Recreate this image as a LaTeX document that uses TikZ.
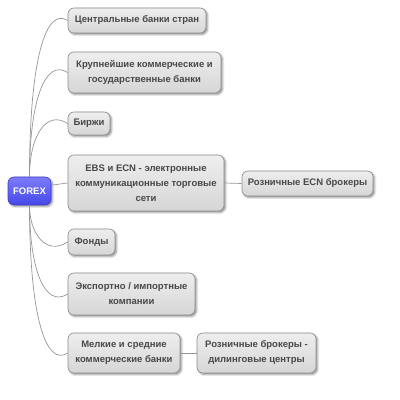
\documentclass[tikz,border=0pt]{standalone}
\usepackage{fontspec}
\setmainfont{Liberation Sans}
\usetikzlibrary{shadows,shadows.blur}
\definecolor{boxline}{RGB}{140,140,140}
\definecolor{boxtop}{RGB}{238,238,238}
\definecolor{boxbot}{RGB}{214,214,214}
\definecolor{txt}{RGB}{72,72,72}
\definecolor{linec}{RGB}{150,150,150}
\definecolor{fxtop}{RGB}{125,125,252}
\definecolor{fxbot}{RGB}{70,70,232}
\definecolor{fxline}{RGB}{60,60,200}
\begin{document}
\begin{tikzpicture}[x=1pt,y=1pt,
  box/.style={draw=boxline, line width=0.6pt, rounded corners=6pt,
    top color=boxtop, bottom color=boxbot, text=txt,
    font=\fontsize{9.5}{15}\selectfont\bfseries, align=center, inner sep=0pt,
    blur shadow={shadow xshift=1.5pt, shadow yshift=-1.5pt, shadow blur radius=2pt, shadow opacity=45}},
  fxbox/.style={box, draw=fxline, top color=fxtop, bottom color=fxbot, text=white},
  conn/.style={draw=linec, line width=0.7pt}]
\useasboundingbox (0,0) rectangle (400,400);
\node[fxbox, minimum width=43pt, minimum height=28pt] (fx) at (29.5,209) {FOREX};
\node[box, minimum width=138pt, minimum height=25pt] (n1) at (137,379.5) {Центральные банки стран};
\node[box, minimum width=153pt, minimum height=41pt] (n2) at (144.5,327.5) {Крупнейшие коммерческие и\\государственные банки};
\node[box, minimum width=42pt, minimum height=23pt] (n3) at (89,276.5) {Биржи};
\node[box, minimum width=156pt, minimum height=56pt] (n4) at (146,217) {EBS и ECN - электронные\\коммуникационные торговые\\сети};
\node[box, minimum width=131pt, minimum height=25pt] (n5) at (307.5,216.5) {Розничные ECN брокеры};
\node[box, minimum width=47pt, minimum height=26pt] (n7) at (91.5,158) {Фонды};
\node[box, minimum width=127pt, minimum height=42pt] (n8) at (131.5,106) {Экспортно / импортные\\компании};
\node[box, minimum width=112pt, minimum height=40pt] (n9) at (124,47) {Мелкие и средние\\коммерческие банки};
\node[box, minimum width=119pt, minimum height=40pt] (n10) at (256.5,47) {Розничные брокеры -\\дилинговые центры};
\draw[conn] (fx.north) .. controls +(0,117) and +(-22,14) .. (n1.west);
\draw[conn] (fx.north) .. controls +(0,78) and +(-22,14) .. (n2.west);
\draw[conn] (fx.north) .. controls +(0,40) and +(-22,14) .. (n3.west);
\draw[conn] (fx.15) -- (n4.west);
\draw[conn] (fx.south) .. controls +(0,-28) and +(-22,-14) .. (n7.west);
\draw[conn] (fx.south) .. controls +(0,-67) and +(-22,-14) .. (n8.west);
\draw[conn] (fx.south) .. controls +(0,-111) and +(-22,-14) .. (n9.west);
\draw[conn] (n4.east) -- (n5.west);
\draw[conn] (n9.east) -- (n10.west);
\end{tikzpicture}
\end{document}
